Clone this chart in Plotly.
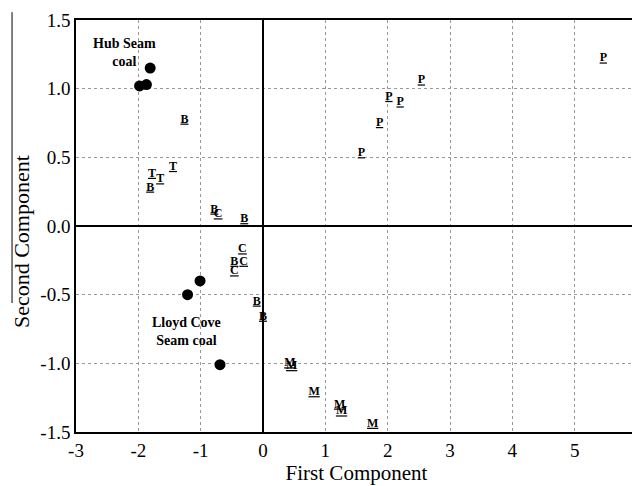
import plotly.graph_objects as go

# Coal samples (filled circles)
coal_x = [-1.98, -1.87, -1.81, -1.01, -1.21, -0.69]
coal_y = [1.02, 1.03, 1.15, -0.40, -0.50, -1.01]

# Letter-coded samples
lab_text = ["B", "T", "T", "T", "B", "B", "C", "B",
            "C", "B", "C", "C", "B", "B",
            "M", "M", "M", "M", "M", "M",
            "P", "P", "P", "P", "P", "P"]
lab_x = [-1.26, -1.445, -1.78, -1.65, -1.81, -0.78, -0.72, -0.30,
         -0.33, -0.46, -0.31, -0.46, -0.10, 0.00,
         0.43, 0.46, 0.82, 1.23, 1.26, 1.76,
         5.46, 2.54, 2.02, 2.20, 1.87, 1.58]
lab_y = [0.775, 0.43, 0.38, 0.34, 0.28, 0.12, 0.085, 0.05,
         -0.17, -0.26, -0.26, -0.33, -0.55, -0.66,
         -1.00, -1.02, -1.21, -1.30, -1.35, -1.44,
         1.22, 1.06, 0.94, 0.90, 0.75, 0.53]

x_ticks = [-3, -2, -1, 0, 1, 2, 3, 4, 5, 6]
x_ticktext = ["-3", "-2", "-1", "0", "1", "2", "3", "4", "5", "6"]
y_ticks = [-1.5, -1.0, -0.5, 0.0, 0.5, 1.0, 1.5]
y_ticktext = ["-1.5", "-1.0", "-0.5", "0.0", "0.5", "1.0", "1.5"]

SERIF = "Liberation Serif"

fig = go.Figure()
fig.add_trace(go.Scatter(
    x=coal_x, y=coal_y, mode="markers",
    marker=dict(color="black", size=11), showlegend=False, cliponaxis=False))
fig.add_trace(go.Scatter(
    x=lab_x, y=lab_y, mode="text", text=lab_text,
    textposition="middle center",
    textfont=dict(family=SERIF, size=12, color="black", weight="bold",
                  lineposition="under"),
    showlegend=False))

fig.add_annotation(x=-2.23, y=1.26, text="<b>Hub Seam<br>coal</b>", showarrow=False,
                   font=dict(family=SERIF, size=14, color="black"), align="center")
fig.add_annotation(x=-1.22, y=-0.77, text="<b>Lloyd Cove<br>Seam coal</b>", showarrow=False,
                   font=dict(family=SERIF, size=14, color="black"), align="center")

# y-axis title placed as rotated annotation
fig.add_annotation(xref="paper", yref="paper", x=-0.098, y=0.461,
                   xanchor="center", yanchor="middle",
                   text="Second Component", textangle=-90, showarrow=False,
                   font=dict(family=SERIF, size=22, color="black"))

# stray vertical stroke left of the y-axis title
fig.add_shape(type="line", xref="paper", yref="paper",
              x0=-0.114, x1=-0.114, y0=1.019, y1=0.313,
              line=dict(color="black", width=1))

axis_common = dict(
    showline=True, linecolor="black", linewidth=1.5, mirror=True,
    showgrid=True, gridcolor="#999999", griddash="dot", gridwidth=1,
    zeroline=True, zerolinecolor="black", zerolinewidth=1.5,
    ticks="", tickfont=dict(family=SERIF, size=19, color="black"),
    automargin=False, ticklabeloverflow="allow",
)

fig.update_xaxes(range=[-3, 6], tickvals=x_ticks, ticktext=x_ticktext,
                 title=dict(text="First Component", font=dict(family=SERIF, size=21, color="black"),
                            standoff=0),
                 **axis_common)
fig.update_yaxes(range=[-1.5, 1.5], tickvals=y_ticks, ticktext=y_ticktext,
                 **axis_common)

fig.update_layout(
    width=632, height=478,
    margin=dict(l=68, r=3, t=12, b=54),
    paper_bgcolor="white", plot_bgcolor="white",
)

fig.write_html("out.html")
